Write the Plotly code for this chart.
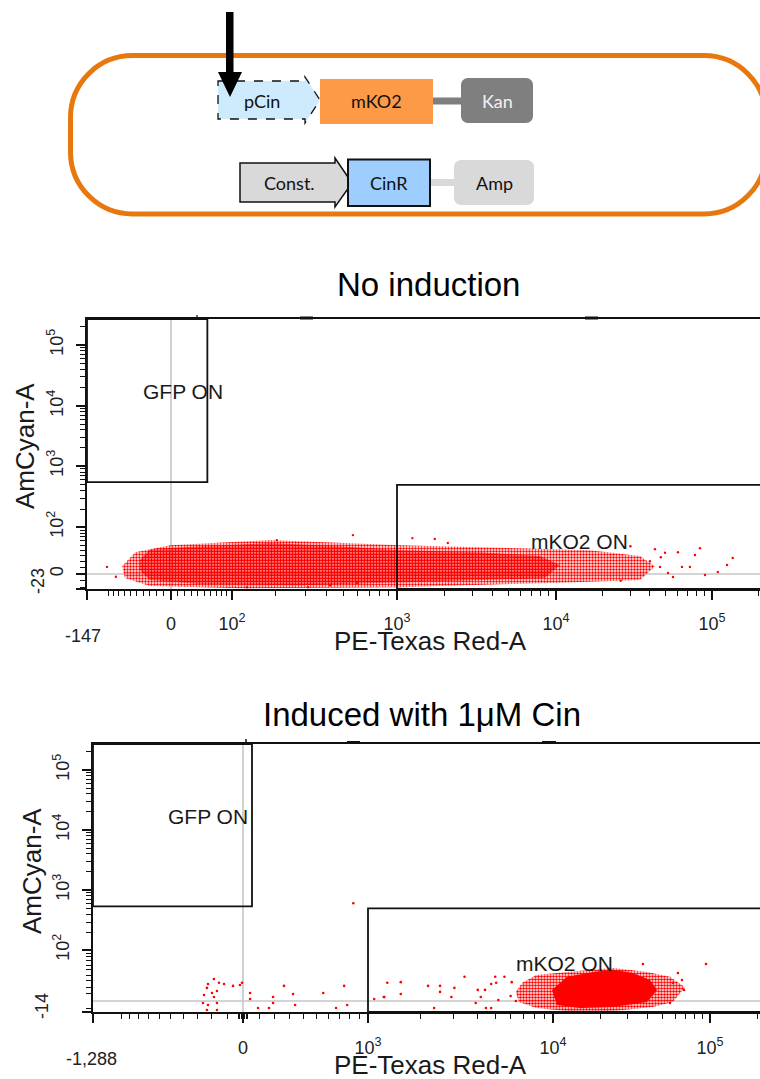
import numpy as np
import plotly.graph_objects as go

W, H = 760, 1079

# ---------------- Panel 1: No induction (fluorescence units) ----------------
P1_CORE_X = [-45, -30, 43, 184, 477, 1040, 3330, 7930, 10600, 8530, 3330, 1040, 280, 43, -30, -45]
P1_CORE_Y = [22, 42, 48, 55, 48, 40, 36, 29, 14, -6, -9, -13, -17, -15, -9, 6]
P1_FRINGE_X = [-74, -52, -1, 184, 1040, 4440, 16500, 34500, 43100, 34500, 10600, 1040, 136, -30, -69]
P1_FRINGE_Y = [12, 36, 50, 62, 50, 44, 40, 29, 12, -9, -13, -20, -22, -18, -6]
P1_PTS_X = [-102, 1730, 2090, 203, 565, 1250, 129, 312, 419, 595, 43100, 50000, 60500, 64200, 72200,
            77800, 83700, 90200, 109000, 125000, 136000, 56200, 52200, 46400, 30000, 40000, 47000, 26000, -85]
P1_PTS_Y = [11, 65, 55, 62, 75, 67, -20, -20, -17, -13.5, 42, 35, 36, 11, 11,
            31, 44, -1.5, 3, 14, 25.5, -4.5, 1.5, 11, 48, 20, 27, -10, -4]
P1_GFP_GATE_X = [-147, 55]
P1_GFP_GATE_Y = [550, 262144]
P1_MKO2_GATE_X = [1000, 262144]
P1_MKO2_GATE_Y = [-23, 500]

# ---------------- Panel 2: Induced with 1uM Cin ----------------
P2_CORE_X = [9880, 12300, 18000, 24100, 32300, 41500, 46000, 39700, 24100, 14900, 10600]
P2_CORE_Y = [16, 37, 46, 50, 44, 31.5, 16, -1.3, -7.6, -8.8, -5]
P2_FRINGE_X = [6390, 6890, 8190, 12300, 24100, 39700, 55600, 69300, 58100, 43300, 24100, 12300, 8190, 6630]
P2_FRINGE_Y = [13, 27, 40, 46, 54, 46, 37, 20, -1.3, -7.6, -12.7, -12.7, -8.8, -1.3]
P2_PTS_X = [-185, -225, -152, -119, -62, -19, -6, -232, -198, -165, -252, -185, -259, -225, -165, -232, -165,
            44, 44, 94, 163, 189, 189, 261, 323, 337, 553, 665, 742, 772, 1090, 1250, 835,
            1300, 1550, 1240, 1550, 2190, 2540, 2540, 3030, 2920, 3430, 4030, 4400, 4180, 3930,
            4450, 4740, 4980, 4740, 5040, 5570, 6080, 6000, 6390, 2360, 5170,
            37400, 94300, 62500, 58100, 66300, 68300, 55600]
P2_PTS_Y = [33, 25, 27, 25, 22, 23.5, 27, 19, 11.4, 14.3, 8.5, 5.7, -2.5, -5, -2.5, -11.4, -11.4,
            11.4, 2.8, -8.8, -8.8, 5.7, -2.5, 22, 10, -5, 11.4, -8.8, 22, -5, 2.8, 5.7, 610,
            27, 28, 5.7, 10, 22, 22, 13, 19, 5.7, 37, 16, 16, 5.7, -2.5,
            -8.8, -8.8, 37, 25, 27, 37, 28, 7.1, 0, -8.8, 1.4,
            62.5, 62.5, 44, 27, 31.5, 16, -2.5]
P2_GFP_GATE_X = [-1288, 56]
P2_GFP_GATE_Y = [540, 262144]
P2_MKO2_GATE_X = [1000, 262144]
P2_MKO2_GATE_Y = [-14, 500]

# ---------------- tick labels ----------------
X1_TICKS = [-147, 0, 100, 1000, 10000, 100000]
X1_TEXT = ["", "0", "10<sup>2</sup>", "10<sup>3</sup>", "10<sup>4</sup>", "10<sup>5</sup>"]
Y1_TICKS = [-23, 0, 100, 1000, 10000, 100000]
Y1_TEXT = ["", "0", "10<sup>2</sup>", "10<sup>3</sup>", "10<sup>4</sup>", "10<sup>5</sup>"]
X2_TICKS = [-1288, 0, 1000, 10000, 100000]
X2_TEXT = ["", "0", "10<sup>3</sup>", "10<sup>4</sup>", "10<sup>5</sup>"]
Y2_TICKS = [-14, 100, 1000, 10000, 100000]
Y2_TEXT = ["", "10<sup>2</sup>", "10<sup>3</sup>", "10<sup>4</sup>", "10<sup>5</sup>"]

# ---------------- biexponential display scales (calibration) ----------------
X1_SCALE = ([-147, -100, 0, 100, 1000, 1e4, 1e5, 262144], [87, 108, 171, 232, 397, 556, 712, 777], 100)
Y1_SCALE = ([-23, 0, 100, 1000, 1e4, 1e5, 262144], [589, 574, 527, 466, 406, 345, 319], 50)
X2_SCALE = ([-1288, -1000, -100, 0, 100, 1000, 1e4, 1e5, 262144], [93, 121, 227, 243, 259, 368, 553, 710, 776], 600)
Y2_SCALE = ([-14, 0, 100, 1000, 1e4, 1e5, 262144], [1012, 1001, 950, 890, 830, 770, 744], 50)


def biex(v, scale):
    vals, px, s = scale
    return np.interp(np.arcsinh(np.asarray(v, float) / s), np.arcsinh(np.asarray(vals, float) / s), px)


def decades(lo, hi):
    out = []
    for d in range(lo, hi + 1):
        out += [m * 10 ** d for m in range(2, 10)]
    return out


X1_MINOR = [-100 + 10 * i for i in range(10)] + [10 * i for i in range(1, 10)] + decades(2, 4) + [200000]
Y1_MINOR = [-20, -10] + [10 * i for i in range(1, 10)] + decades(2, 4) + [200000]
X2_MINOR = [-1000 + 100 * i for i in range(10)] + [-30, -20, -10, 10, 20, 30] + [100 * i for i in range(1, 10)] + decades(3, 4) + [200000]
Y2_MINOR = [-10] + [10 * i for i in range(1, 10)] + decades(2, 4) + [200000]

FONT = "Liberation Sans, Arial, sans-serif"
DFONT = "Lato, Carlito, sans-serif"
RED = "#ff0000"

fig = go.Figure()


def px_x(x):
    return x / W


def px_y(y):
    return 1 - y / H


def add_cloud(xs, ys, sx, sy, xa, ya, solidity, size=3, solid=False):
    kw = dict(fill="toself", fillcolor=RED) if solid else dict(
        fill="toself", fillcolor="rgba(0,0,0,0)",
        fillpattern=dict(shape=".", fgcolor=RED, bgcolor="rgba(0,0,0,0)", size=size,
                         solidity=solidity, fillmode="replace"))
    fig.add_trace(go.Scatter(x=biex(xs, sx), y=biex(ys, sy), mode="lines", line=dict(width=0),
                             xaxis=xa, yaxis=ya, hoverinfo="skip", showlegend=False, **kw))


# Panel 1 clouds
add_cloud(P1_FRINGE_X, P1_FRINGE_Y, X1_SCALE, Y1_SCALE, "x", "y", 0.5)
add_cloud(P1_CORE_X, P1_CORE_Y, X1_SCALE, Y1_SCALE, "x", "y", 0.75)
fig.add_trace(go.Scatter(x=biex(P1_PTS_X, X1_SCALE), y=biex(P1_PTS_Y, Y1_SCALE), mode="markers",
                         marker=dict(color=RED, size=2.4), xaxis="x", yaxis="y",
                         hoverinfo="skip", showlegend=False))
# Panel 2 clouds
add_cloud(P2_FRINGE_X, P2_FRINGE_Y, X2_SCALE, Y2_SCALE, "x2", "y2", 0.55)
add_cloud(P2_CORE_X, P2_CORE_Y, X2_SCALE, Y2_SCALE, "x2", "y2", 1, solid=True)
fig.add_trace(go.Scatter(x=biex(P2_PTS_X, X2_SCALE), y=biex(P2_PTS_Y, Y2_SCALE), mode="markers",
                         marker=dict(color=RED, size=2.6), xaxis="x2", yaxis="y2",
                         hoverinfo="skip", showlegend=False))


def axis_common(ticks, text, minor, sc, rng, dom, anchor, angle=0):
    return dict(range=rng, domain=dom, anchor=anchor, showgrid=False, zeroline=False,
                showline=True, linecolor="#111", linewidth=2,
                ticks="outside", ticklen=9, tickwidth=1.6, tickcolor="#111",
                tickmode="array", tickvals=list(biex(ticks, sc)), ticktext=text,
                tickangle=angle, tickfont=dict(family=FONT, size=18, color="#222"),
                minor=dict(tickmode="array", tickvals=list(biex(minor, sc)), ticks="outside",
                           ticklen=5, tickwidth=1.3, tickcolor="#111", showgrid=False),
                fixedrange=True)


xa1 = axis_common(X1_TICKS, X1_TEXT, X1_MINOR, X1_SCALE, [87, 760], [px_x(87), 1], "y")
xa1.update(mirror=True, ticklabelstandoff=8)
ya1 = axis_common(Y1_TICKS, Y1_TEXT, Y1_MINOR, Y1_SCALE, [589, 319], [px_y(589), px_y(319)], "x", -90)
ya1.update(ticklabelstandoff=6)
xa2 = axis_common(X2_TICKS, X2_TEXT, X2_MINOR, X2_SCALE, [93, 760], [px_x(93), 1], "y2")
xa2.update(mirror=True, ticklabelstandoff=9)
ya2 = axis_common(Y2_TICKS, Y2_TEXT, Y2_MINOR, Y2_SCALE, [1012, 744], [px_y(1012), px_y(744)], "x2", -90)
ya2.update(ticklabelstandoff=6)

shapes = []


def gate(gx, gy, sx, sy, xr, yr):
    shapes.append(dict(type="rect", xref=xr, yref=yr,
                       x0=float(biex(gx[0], sx)), x1=float(biex(gx[1], sx)),
                       y0=float(biex(gy[0], sy)), y1=float(biex(gy[1], sy)),
                       line=dict(color="#111", width=1.8), fillcolor="rgba(0,0,0,0)", layer="above"))


def zero_lines(sx, sy, xr, yr):
    shapes.append(dict(type="line", xref=xr, yref=yr + " domain", x0=float(biex(0, sx)), x1=float(biex(0, sx)),
                       y0=0, y1=1, line=dict(color="#c6c6c6", width=1.6), layer="below"))
    shapes.append(dict(type="line", xref=xr + " domain", yref=yr, y0=float(biex(0, sy)), y1=float(biex(0, sy)),
                       x0=0, x1=1, line=dict(color="#c6c6c6", width=1.6), layer="below"))


zero_lines(X1_SCALE, Y1_SCALE, "x", "y")
zero_lines(X2_SCALE, Y2_SCALE, "x2", "y2")
gate(P1_GFP_GATE_X, P1_GFP_GATE_Y, X1_SCALE, Y1_SCALE, "x", "y")
gate(P1_MKO2_GATE_X, P1_MKO2_GATE_Y, X1_SCALE, Y1_SCALE, "x", "y")
gate(P2_GFP_GATE_X, P2_GFP_GATE_Y, X2_SCALE, Y2_SCALE, "x2", "y2")
gate(P2_MKO2_GATE_X, P2_MKO2_GATE_Y, X2_SCALE, Y2_SCALE, "x2", "y2")


def pt(x, y):
    return f"{px_x(x):.5f},{px_y(y):.5f}"


def poly(points):
    return "M " + " L ".join(pt(x, y) for x, y in points) + " Z"


def rrect(x0, y0, x1, y1, r):
    k = 0.5523 * r
    return (f"M {pt(x0 + r, y0)} L {pt(x1 - r, y0)} C {pt(x1 - r + k, y0)} {pt(x1, y0 + r - k)} {pt(x1, y0 + r)} "
            f"L {pt(x1, y1 - r)} C {pt(x1, y1 - r + k)} {pt(x1 - r + k, y1)} {pt(x1 - r, y1)} "
            f"L {pt(x0 + r, y1)} C {pt(x0 + r - k, y1)} {pt(x0, y1 - r + k)} {pt(x0, y1 - r)} "
            f"L {pt(x0, y0 + r)} C {pt(x0, y0 + r - k)} {pt(x0 + r - k, y0)} {pt(x0 + r, y0)} Z")


def pshape(path, fill="rgba(0,0,0,0)", lc="rgba(0,0,0,0)", lw=0, dash="solid"):
    shapes.append(dict(type="path", xref="paper", yref="paper", path=path, fillcolor=fill,
                       line=dict(color=lc, width=lw, dash=dash), layer="above"))


# ---- plasmid diagram ----
pshape(rrect(70.5, 55.5, 766, 214, 62), lc="#e8780e", lw=5)
pshape(poly([(218, 81), (305, 81), (305, 77), (320, 100), (305, 123), (305, 119), (218, 119)]),
       fill="#cdebfc", lc="#111", lw=1.3, dash="dash")
pshape(poly([(226, 12), (233.5, 12), (233.5, 73), (226, 73)]), fill="#000")
pshape(poly([(218, 72), (242, 72), (230, 97)]), fill="#000")
pshape(poly([(320, 79), (433, 79), (433, 124), (320, 124)]), fill="#fd9a48")
pshape(poly([(433, 97.5), (462, 97.5), (462, 104.5), (433, 104.5)]), fill="#7f7f7f")
pshape(rrect(461, 78, 533, 123, 7), fill="#7f7f7f")
pshape(poly([(240, 163), (335, 163), (335, 158), (352, 183), (335, 207), (335, 202), (240, 202)]),
       fill="#d9d9d9", lc="#111", lw=1.5)
pshape(poly([(430, 179), (456, 179), (456, 186), (430, 186)]), fill="#d9d9d9")
pshape(rrect(454, 160, 534, 205, 7), fill="#d9d9d9")
pshape(poly([(348, 159.5), (430, 159.5), (430, 206), (348, 206)]), fill="#9dceff", lc="#111", lw=2)

# ---- small marks on plot tops ----
for (x0, x1, y0, y1) in [(300, 313, 316.5, 319.5), (585, 598, 316.5, 319.5),
                         (347, 360, 741, 744), (542, 556, 741, 744)]:
    pshape(poly([(x0, y0), (x1, y0), (x1, y1), (x0, y1)]), fill="#111")
shapes.append(dict(type="line", xref="paper", yref="paper", x0=px_x(246), x1=px_x(246),
                   y0=px_y(739), y1=px_y(744), line=dict(color="#111", width=1.5)))
shapes.append(dict(type="line", xref="paper", yref="paper", x0=px_x(197), x1=px_x(197),
                   y0=px_y(315), y1=px_y(319), line=dict(color="#111", width=1.2)))

annotations = []


def txt(x, y, s, size, color="#111", family=FONT, angle=0):
    annotations.append(dict(x=px_x(x), y=px_y(y), xref="paper", yref="paper", text=s, showarrow=False,
                            xanchor="center", yanchor="middle", textangle=angle,
                            font=dict(family=family, size=size, color=color)))


txt(262, 101, "pCin", 18, "#111", DFONT)
txt(376, 101, "mKO2", 18, "#111", DFONT)
txt(497, 101, "Kan", 18, "#f2f2f2", DFONT)
txt(289, 183, "Const.", 18, "#111", DFONT)
txt(389, 183, "CinR", 18, "#111", DFONT)
txt(494, 183, "Amp", 18, "#111", DFONT)

txt(428, 284, "No induction", 33, "#000")
txt(422, 714, "Induced with 1μM Cin", 33, "#000")
txt(430, 641, "PE-Texas Red-A", 26, "#1a1a1a")
txt(430, 1065, "PE-Texas Red-A", 26, "#1a1a1a")
txt(25, 446, "AmCyan-A", 26, "#1a1a1a", angle=-90)
txt(32, 871, "AmCyan-A", 26, "#1a1a1a", angle=-90)
txt(183, 391, "GFP ON", 21, "#1a1a1a")
txt(579, 541, "mKO2 ON", 21, "#1a1a1a")
txt(208, 816, "GFP ON", 21, "#1a1a1a")
txt(564, 963, "mKO2 ON", 21, "#1a1a1a")
txt(83, 636, "-147", 18, "#222")
txt(91, 1059, "-1,288", 18, "#222")
txt(38, 581, "-23", 18, "#222", angle=-90)
txt(42, 1006, "-14", 18, "#222", angle=-90)

fig.update_layout(width=W, height=H, autosize=False, margin=dict(l=0, r=0, t=0, b=0),
                  paper_bgcolor="white", plot_bgcolor="white", showlegend=False,
                  xaxis=xa1, yaxis=ya1, xaxis2=xa2, yaxis2=ya2,
                  shapes=shapes, annotations=annotations, font=dict(family=FONT))

fig.write_html("out.html")
